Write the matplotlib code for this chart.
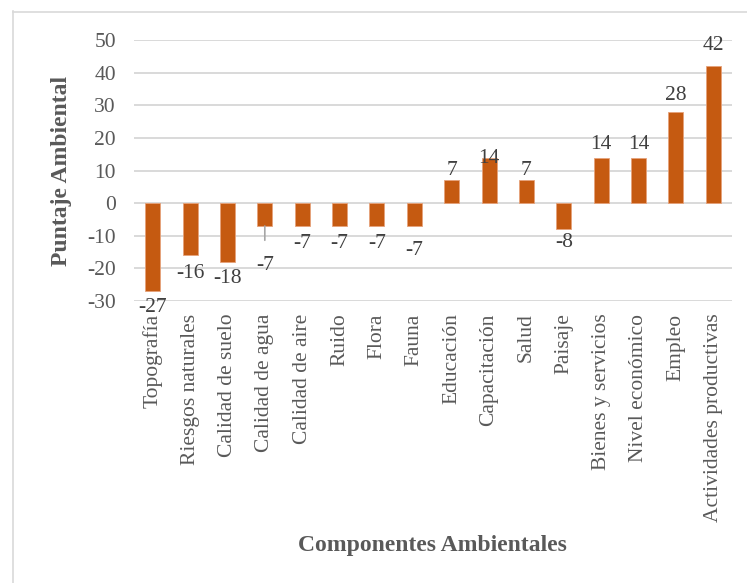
import matplotlib
matplotlib.use("Agg")
import matplotlib.pyplot as plt
from matplotlib.lines import Line2D

# Environmental impact scores per component
categories = ["Topografía", "Riesgos naturales", "Calidad de suelo", "Calidad de agua",
              "Calidad de aire", "Ruido", "Flora", "Fauna", "Educación", "Capacitación",
              "Salud", "Paisaje", "Bienes y servicios", "Nivel económico", "Empleo",
              "Actividades productivas"]
scores = [-27, -16, -18, -7, -7, -7, -7, -7, 7, 14, 7, -8, 14, 14, 28, 42]
y_ticks = [-30, -20, -10, 0, 10, 20, 30, 40, 50]

# Data-label placement (offset in pixels from each bar end)
label_dy = [-16, -18, -17, -39, -17, -17, -17, -24, 10, -1, 10, -13, 13, 13, 16, 21]

plt.rcParams["font.family"] = ["Liberation Serif", "DejaVu Serif"]

W, H = 747, 583
fig = plt.figure(figsize=(W / 100, H / 100), dpi=100)
fig.patch.set_facecolor("white")

left, right, top, bottom = 134, 732, 40.3, 301
ax = fig.add_axes([left / W, 1 - bottom / H, (right - left) / W, (bottom - top) / H])

bar_color = "#C55A11"
x = list(range(len(categories)))
ax.bar(x, scores, width=0.4, color=bar_color, edgecolor="#E6A27A", linewidth=0.6, zorder=3)

ax.set_xlim(-0.5, len(categories) - 0.5)
ax.set_ylim(-30, 50)
ax.set_yticks(y_ticks)
ax.set_yticklabels([str(t) for t in y_ticks])
ax.set_xticks(x)
ax.set_xticklabels(categories, rotation=90, ha="center", va="top")

ax.grid(axis="y", color="#D9D9D9", linewidth=1.4, zorder=0)
ax.set_axisbelow(True)
for s in ax.spines.values():
    s.set_visible(False)
ax.tick_params(axis="both", length=0, labelsize=15.5, labelcolor="#595959")
ax.tick_params(axis="y", pad=13)
ax.tick_params(axis="x", pad=9)

# Value labels
for i, (v, dy) in enumerate(zip(scores, label_dy)):
    kw = {}
    if categories[i] == "Calidad de agua":
        kw["arrowprops"] = dict(arrowstyle="-", color="#A6A6A6", lw=1.2,
                                shrinkA=9, shrinkB=0)
    ax.annotate(str(v), xy=(i, v), xytext=(0, dy), textcoords="offset pixels",
                ha="center", va="center", fontsize=15.5, color="#404040", zorder=4, **kw)

# Axis titles
fig.text(62 / W, 1 - 171 / H, "Puntaje Ambiental", rotation=90, ha="center", va="center",
         fontsize=17, fontweight="bold", color="#595959")
fig.text(432 / W, 1 - 545 / H, "Componentes Ambientales", ha="center", va="center",
         fontsize=17, fontweight="bold", color="#595959")

# Chart frame edges
fig.add_artist(Line2D([12.5 / W, 12.5 / W], [0, 1 - 11 / H], transform=fig.transFigure,
                      color="#D9D9D9", linewidth=1.2))
fig.add_artist(Line2D([12.5 / W, 1], [1 - 11.5 / H, 1 - 11.5 / H], transform=fig.transFigure,
                      color="#D9D9D9", linewidth=1.2))

fig.savefig("out.png", dpi=100)
